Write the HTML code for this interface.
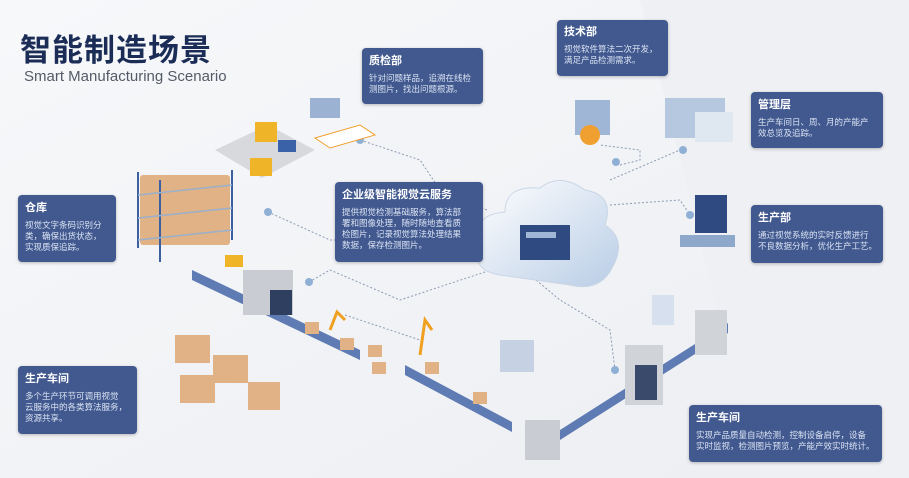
<!DOCTYPE html>
<html><head><meta charset="utf-8"><style>
body{margin:0;width:909px;height:478px;overflow:hidden;background:#f4f5f7;font-family:"Liberation Sans","Noto Sans CJK SC",sans-serif;position:relative}
.box{position:absolute;background:#41598f;border-radius:4px;color:#fff;box-shadow:0 1px 3px rgba(0,0,0,.25);box-sizing:border-box;padding:6px 7px}
.box h4{margin:0;font-size:11px;font-weight:bold;line-height:14px}
.box p{margin:5px 0 0;font-size:8.5px;line-height:11px;color:#dbe3f3;white-space:nowrap}
svg{position:absolute;left:0;top:0}
</style></head><body>
<svg width="909" height="478" viewBox="0 0 909 478">
<defs><linearGradient id="bg" x1="0" y1="0" x2="1" y2="1"><stop offset="0" stop-color="#f7f8fa"/><stop offset="1" stop-color="#eceef2"/></linearGradient>
<linearGradient id="cl" x1="0" y1="0" x2="1" y2="1"><stop offset="0" stop-color="#ffffff"/><stop offset="1" stop-color="#b9cde6"/></linearGradient></defs>
<rect width="909" height="478" fill="url(#bg)"/>
<polygon points="640,0 909,0 909,478 760,478" fill="#eef0f3"/>
<g stroke="#8a9bb5" stroke-width="1" stroke-dasharray="2,2" fill="none">
<path d="M268 212 L330 240 L335 240"/><path d="M487 210 L440 190 L420 160 L360 140"/>
<path d="M309 282 L330 270 L400 300 L497 268"/><path d="M345 315 L420 340"/>
<path d="M620 165 L640 160 L640 150 L600 145"/><path d="M610 180 L680 150"/><path d="M610 205 L680 200 L690 215"/>
<path d="M530 275 L560 300 L610 330 L615 370"/>
</g>
<g fill="#8fb0d4"><circle cx="268" cy="212" r="4"/><circle cx="309" cy="282" r="4"/><circle cx="360" cy="140" r="4"/><circle cx="616" cy="162" r="4"/><circle cx="683" cy="150" r="4"/><circle cx="690" cy="215" r="4"/><circle cx="615" cy="370" r="4"/></g>
<path d="M500 275 Q470 270 480 245 Q470 215 505 212 Q505 185 540 188 Q560 172 585 190 Q615 195 605 225 Q628 240 612 268 Q600 292 570 285 Z" fill="url(#cl)" stroke="#c9d6e6"/>
<rect x="520" y="225" width="50" height="35" fill="#2f4a80"/><rect x="526" y="232" width="30" height="6" fill="#9fb6d6"/>
<g fill="#e0b285"><rect x="140" y="175" width="90" height="70" rx="3"/></g>
<g stroke="#3c5fa0" stroke-width="2"><line x1="138" y1="172" x2="138" y2="248"/><line x1="232" y1="170" x2="232" y2="240"/><line x1="160" y1="180" x2="160" y2="262"/></g>
<g stroke="#9bb0cc" stroke-width="1.5"><line x1="138" y1="195" x2="232" y2="185"/><line x1="138" y1="218" x2="232" y2="208"/><line x1="138" y1="240" x2="232" y2="230"/></g>
<polygon points="215,150 268,125 315,150 262,178" fill="#d7d9dd"/>
<rect x="255" y="122" width="22" height="20" fill="#f0b429"/><rect x="250" y="158" width="22" height="18" fill="#f0b429"/>
<rect x="278" y="140" width="18" height="12" fill="#3a62a8"/>
<rect x="310" y="98" width="30" height="20" fill="#9bb2d3"/><polygon points="315,138 360,125 375,135 330,148" fill="#fff" stroke="#f0a030"/>
<polygon points="192,270 360,350 360,360 192,280" fill="#5e7bb3"/>
<rect x="243" y="270" width="50" height="45" fill="#c9ccd2"/><rect x="270" y="290" width="22" height="25" fill="#2e3f60"/>
<rect x="225" y="255" width="18" height="12" fill="#f0b429"/>
<rect x="305" y="322" width="14" height="12" fill="#e0b285"/><rect x="340" y="338" width="14" height="12" fill="#e0b285"/>
<rect x="368" y="345" width="14" height="12" fill="#e0b285"/><rect x="372" y="362" width="14" height="12" fill="#e0b285"/>
<path d="M330 330 L337 312 L345 320" stroke="#f0a020" stroke-width="3" fill="none"/>
<path d="M420 355 L425 320 L432 330" stroke="#f0a020" stroke-width="3" fill="none"/>
<polygon points="405,365 512,422 512,432 405,375" fill="#5e7bb3"/>
<rect x="425" y="362" width="14" height="12" fill="#e0b285"/><rect x="473" y="392" width="14" height="12" fill="#e0b285"/>
<rect x="500" y="340" width="34" height="32" fill="#c6d2e4"/>
<polygon points="560,430 728,323 728,333 560,440" fill="#5e7bb3"/>
<rect x="525" y="420" width="35" height="40" fill="#c9ccd2"/>
<rect x="625" y="345" width="38" height="60" fill="#d0d3d8"/><rect x="635" y="365" width="22" height="35" fill="#3a4a6a"/>
<rect x="695" y="310" width="32" height="45" fill="#d0d3d8"/>
<rect x="652" y="295" width="22" height="30" fill="#d6e0ee"/>
<g fill="#e0b285"><rect x="175" y="335" width="35" height="28"/><rect x="213" y="355" width="35" height="28"/><rect x="180" y="375" width="35" height="28"/><rect x="248" y="382" width="32" height="28"/></g>
<rect x="575" y="100" width="35" height="35" fill="#9fb6d6"/><circle cx="590" cy="135" r="10" fill="#f0a030"/>
<rect x="665" y="98" width="60" height="40" fill="#b6c8df"/><rect x="695" y="112" width="38" height="30" fill="#dfe7f1"/>
<rect x="695" y="195" width="32" height="38" fill="#2f4a80"/><rect x="680" y="235" width="55" height="12" fill="#8ea8cc"/>
</svg>
<div style="position:absolute;left:20px;top:30px;font-size:31px;font-weight:bold;color:#1b2d57;letter-spacing:1px;font-family:'Noto Sans CJK SC',sans-serif;line-height:36px">智能制造场景</div>
<div style="position:absolute;left:24px;top:68px;font-size:15px;color:#555b66">Smart Manufacturing Scenario</div>
<div class="box" style="left:362px;top:48px;width:121px;height:56px"><h4>质检部</h4><p>针对问题样品，追溯在线检<br>测图片，找出问题根源。</p></div>
<div class="box" style="left:557px;top:20px;width:111px;height:56px;padding-top:5px"><h4>技术部</h4><p>视觉软件算法二次开发，<br>满足产品检测需求。</p></div>
<div class="box" style="left:751px;top:92px;width:132px;height:56px"><h4>管理层</h4><p>生产车间日、周、月的产能产<br>效总览及追踪。</p></div>
<div class="box" style="left:18px;top:195px;width:98px;height:67px"><h4>仓库</h4><p>视觉文字条码识别分<br>类，确保出货状态，<br>实现质保追踪。</p></div>
<div class="box" style="left:335px;top:182px;width:148px;height:80px"><h4>企业级智能视觉云服务</h4><p>提供视觉检测基础服务，算法部<br>署和图像处理，随时随地查看质<br>检图片，记录视觉算法处理结果<br>数据，保存检测图片。</p></div>
<div class="box" style="left:751px;top:205px;width:132px;height:58px"><h4>生产部</h4><p>通过视觉系统的实时反馈进行<br>不良数据分析，优化生产工艺。</p></div>
<div class="box" style="left:18px;top:366px;width:119px;height:68px"><h4>生产车间</h4><p>多个生产环节可调用视觉<br>云服务中的各类算法服务，<br>资源共享。</p></div>
<div class="box" style="left:689px;top:405px;width:193px;height:57px"><h4>生产车间</h4><p>实现产品质量自动检测，控制设备启停，设备<br>实时监视，检测图片预览，产能产效实时统计。</p></div>
</body></html>
